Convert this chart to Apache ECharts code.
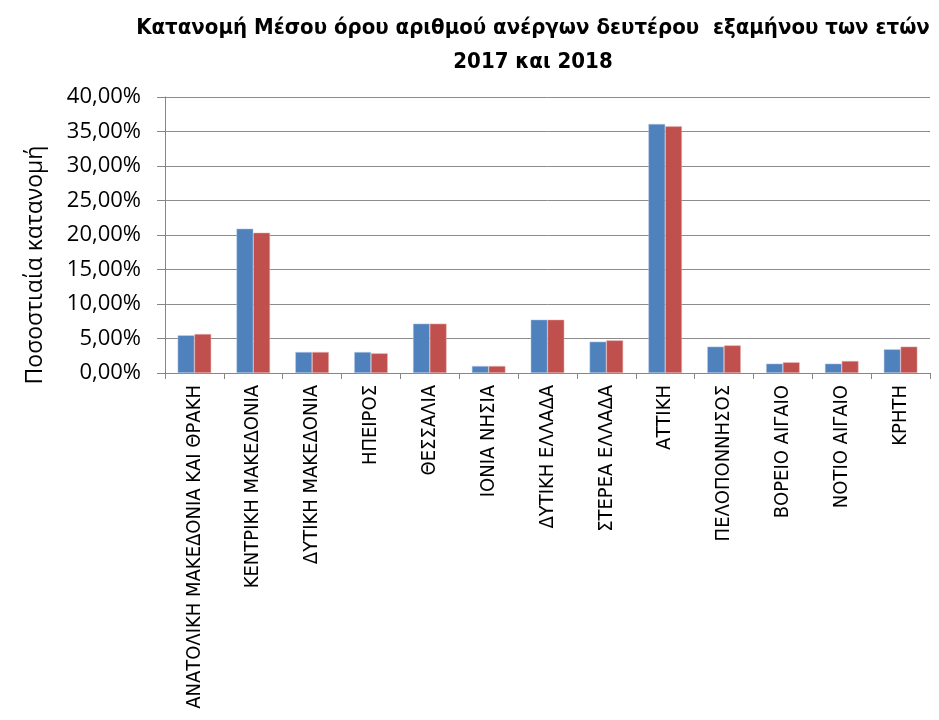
<!DOCTYPE html>
<html>
<head>
<meta charset="utf-8">
<title>Κατανομή ανέργων</title>
<script src="https://cdn.jsdelivr.net/npm/echarts@6/dist/echarts.min.js"></script>
<style>
  html, body { margin: 0; padding: 0; background: #fff; }
  #chart { width: 939px; height: 720px; }
</style>
</head>
<body>
<div id="chart"></div>
<script>
// περιφέρειες
const regions = [
  'ΑΝΑΤΟΛΙΚΗ ΜΑΚΕΔΟΝΙΑ ΚΑΙ ΘΡΑΚΗ', 'ΚΕΝΤΡΙΚΗ ΜΑΚΕΔΟΝΙΑ', 'ΔΥΤΙΚΗ ΜΑΚΕΔΟΝΙΑ',
  'ΗΠΕΙΡΟΣ', 'ΘΕΣΣΑΛΙΑ', 'ΙΟΝΙΑ ΝΗΣΙΑ', 'ΔΥΤΙΚΗ ΕΛΛΑΔΑ', 'ΣΤΕΡΕΑ ΕΛΛΑΔΑ',
  'ΑΤΤΙΚΗ', 'ΠΕΛΟΠΟΝΝΗΣΟΣ', 'ΒΟΡΕΙΟ ΑΙΓΑΙΟ', 'ΝΟΤΙΟ ΑΙΓΑΙΟ', 'ΚΡΗΤΗ'
];
// ποσοστά (%)
const values2017 = [5.46, 20.92, 3.04, 3.04, 7.15, 1.01, 7.73, 4.54, 36.1, 3.82, 1.35, 1.35, 3.43];
const values2018 = [5.65, 20.34, 3.04, 2.85, 7.15, 1.01, 7.73, 4.73, 35.75, 4.0, 1.55, 1.74, 3.82];
const yTicks = [0, 5, 10, 15, 20, 25, 30, 35, 40];

const labelFont = '"Liberation Sans Narrow", "DejaVu Sans Condensed", "Liberation Sans", sans-serif';
const textFont = '"Open Sans", "Liberation Sans", sans-serif';
const chart = echarts.init(document.getElementById('chart'));

const fmt = v => v.toFixed(2).replace('.', ',') + '%';

chart.setOption({
  animation: false,
  title: {
    text: 'Κατανομή Μέσου όρου αριθμού ανέργων δευτέρου  εξαμήνου των ετών\n2017 και 2018',
    left: 528,
    top: 6,
    textAlign: 'center',
    textStyle: {
      fontFamily: labelFont,
      fontWeight: 'bold',
      fontSize: 22,
      lineHeight: 34,
      color: '#000'
    }
  },
  grid: { left: 165, right: 9, top: 97, bottom: 347, containLabel: false },
  xAxis: {
    type: 'category',
    data: regions,
    axisLine: { lineStyle: { color: '#868686', width: 1 } },
    axisTick: { show: true, alignWithLabel: false, length: 6, lineStyle: { color: '#868686' } },
    axisLabel: {
      rotate: 90,
      interval: 0,
      margin: 12,
      fontFamily: labelFont,
      fontSize: 20,
      color: '#000'
    }
  },
  yAxis: {
    type: 'value',
    min: yTicks[0],
    max: yTicks[yTicks.length - 1],
    interval: 5,
    name: 'Ποσοστιαία κατανομή',
    nameLocation: 'middle',
    nameGap: 118,
    nameRotate: 90,
    nameTextStyle: {
      fontFamily: textFont,
      fontSize: 23,
      color: '#000',
      padding: [0, 60, 0, 0]
    },
    axisLine: { show: true, lineStyle: { color: '#868686' } },
    axisTick: { show: true, length: 8, lineStyle: { color: '#868686' } },
    splitLine: { lineStyle: { color: '#8c8c8c', width: 1 } },
    axisLabel: {
      margin: 24,
      fontFamily: textFont,
      fontSize: 22,
      color: '#000',
      formatter: fmt
    }
  },
  series: [
    {
      name: '2017',
      type: 'bar',
      data: values2017,
      barGap: '0%',
      barCategoryGap: '43%',
      itemStyle: { color: '#4F81BD', borderColor: '#b9cde5', borderWidth: 0.5 }
    },
    {
      name: '2018',
      type: 'bar',
      data: values2018,
      itemStyle: { color: '#C0504D', borderColor: '#e6b9b8', borderWidth: 0.5 }
    }
  ]
});
</script>
</body>
</html>
